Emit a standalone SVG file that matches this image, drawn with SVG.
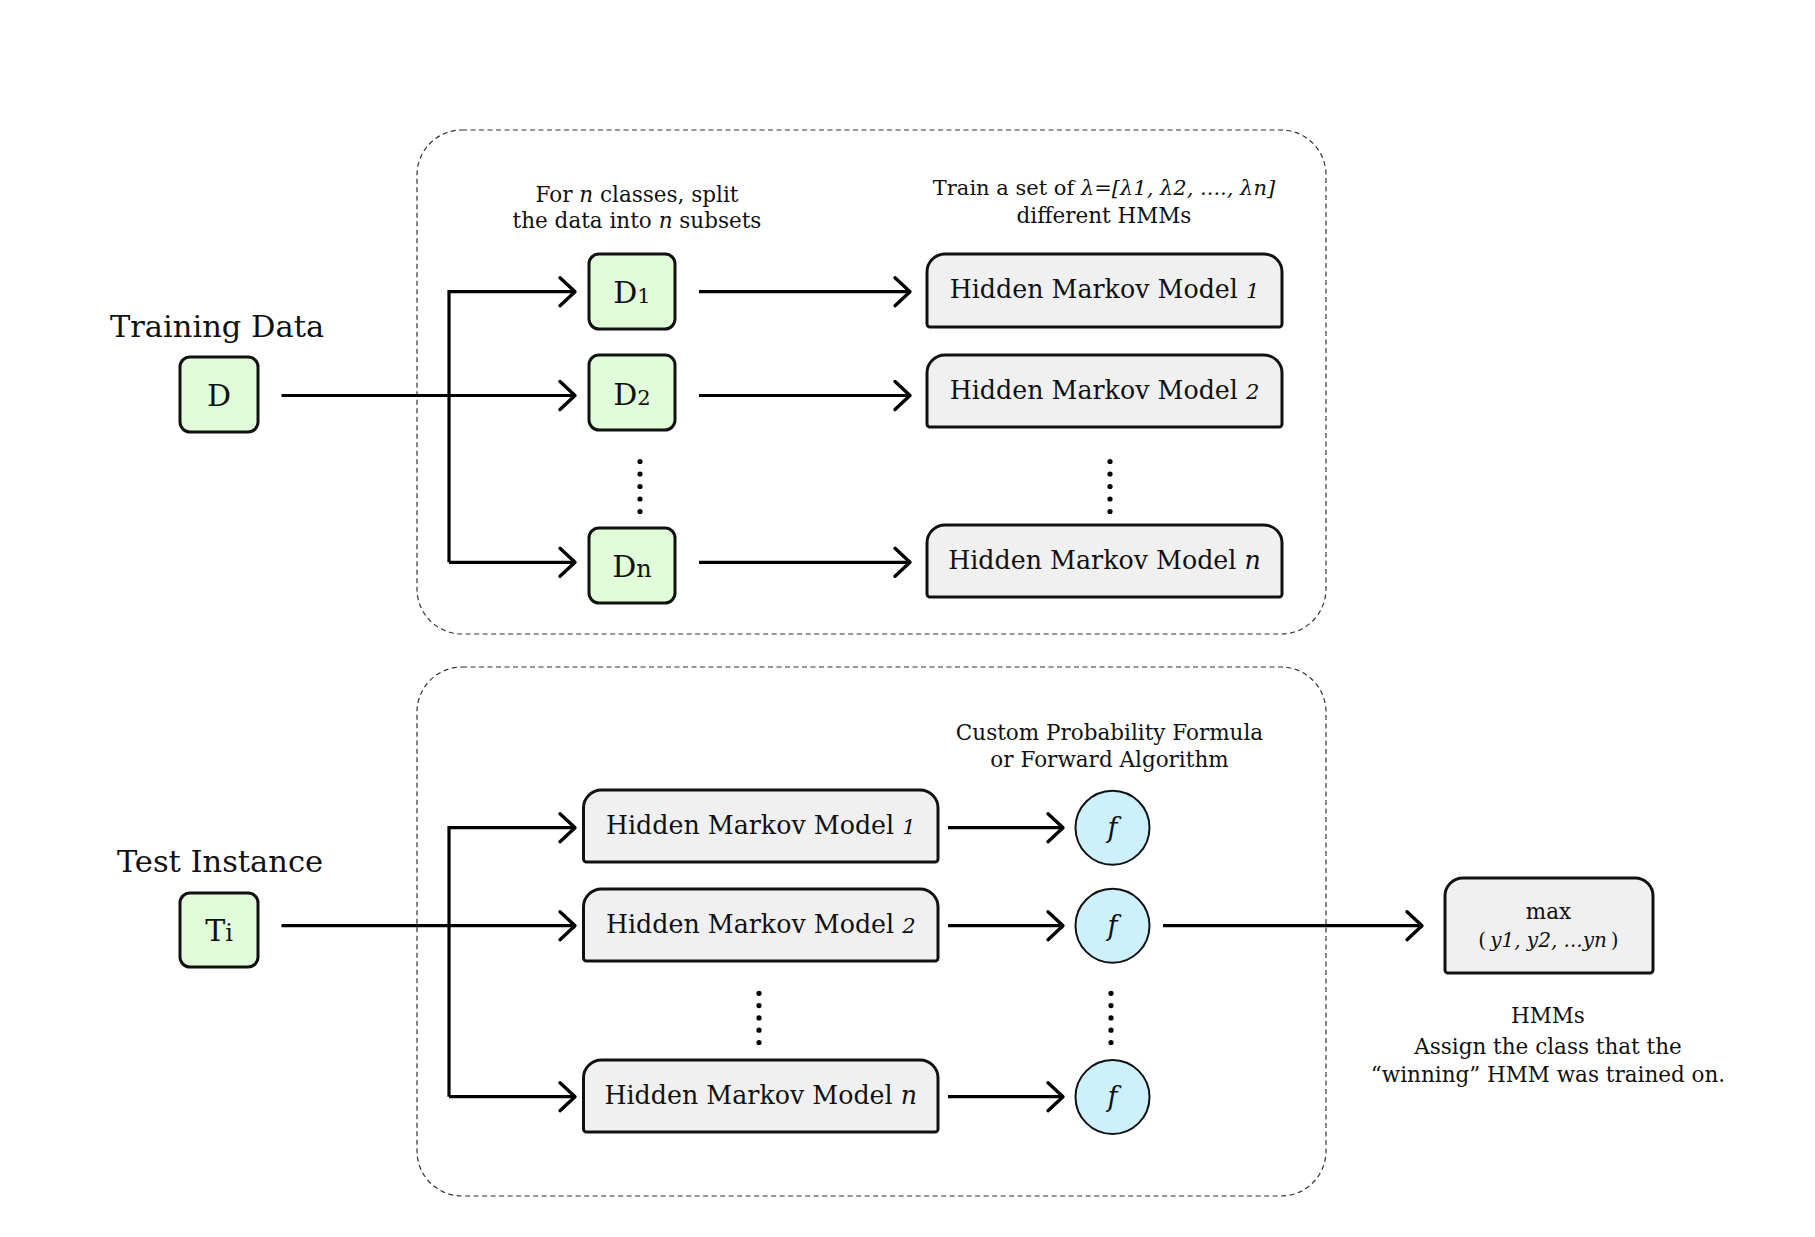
<svg xmlns="http://www.w3.org/2000/svg" width="1815" height="1237" viewBox="0 0 1815 1237">
<style>
  text { font-family: "DejaVu Serif", "Liberation Serif", serif; fill: #111; text-anchor: middle; }
  .title { font-size: 30.5px; }
  .lbl { font-size: 21.5px; }
  .hmm { font-size: 25.3px; }
  .dlbl { font-size: 30px; }
  .it { font-style: italic; }
  .sub { font-size: 21px; }
  .container { fill: none; stroke: #333; stroke-width: 1.2; stroke-dasharray: 5 3.5; }
  .dbox { fill: #e1fcd9; stroke: #111; stroke-width: 3; }
  .hbox { fill: #f0f0f0; stroke: #111; stroke-width: 3; }
  .fcirc { fill: #cdf0fd; stroke: #111; stroke-width: 2; }
  .conn { fill: none; stroke: #000; stroke-width: 3.2; }
  .dots circle { fill: #000; }
</style>
<defs>
  <marker id="ah" markerUnits="userSpaceOnUse" viewBox="-18 -17 22 34" refX="0" refY="0" markerWidth="22" markerHeight="34" orient="auto" overflow="visible">
    <path d="M-15,-14 L0,0 L-15,14" fill="none" stroke="#000" stroke-width="3.4" stroke-linecap="round" stroke-linejoin="round"/>
  </marker>
</defs>
<rect width="1815" height="1237" fill="#fff"/>

<g id="containers">
  <rect id="train-container" class="container" x="417" y="130" width="909" height="504" rx="45"/>
  <rect id="test-container" class="container" x="417" y="667" width="909" height="529" rx="45"/>
</g>

<g id="labels">
  <text class="title" x="217" y="337">Training Data</text>
  <text class="title" x="220" y="872">Test Instance</text>
  <text class="lbl" x="637" y="202">For <tspan class="it">n</tspan> classes, split</text>
  <text class="lbl" x="637" y="228">the data into <tspan class="it">n</tspan> subsets</text>
  <text class="lbl" x="1104" y="195" style="font-size:21px">Train a set of <tspan class="it">λ=[λ1, λ2, ...., λn]</tspan></text>
  <text class="lbl" x="1104" y="223">different HMMs</text>
  <text class="lbl" x="1109.5" y="740">Custom Probability Formula</text>
  <text class="lbl" x="1109.5" y="767">or Forward Algorithm</text>
  <text class="lbl" x="1548" y="1023">HMMs</text>
  <text class="lbl" x="1548" y="1054">Assign the class that the</text>
  <text class="lbl" x="1548" y="1082">“winning” HMM was trained on.</text>
</g>

<g id="node-D">
  <rect class="dbox" x="180" y="357" width="78" height="75" rx="10"/>
  <text class="dlbl" x="219" y="406">D</text>
</g>
<g id="node-D1">
  <rect class="dbox" x="589" y="254" width="86" height="75" rx="10"/>
  <text class="dlbl" x="632" y="303">D<tspan class="sub">1</tspan></text>
</g>
<g id="node-D2">
  <rect class="dbox" x="589" y="355" width="86" height="75" rx="10"/>
  <text class="dlbl" x="632" y="405">D<tspan class="sub">2</tspan></text>
</g>
<g id="node-Dn">
  <rect class="dbox" x="589" y="528" width="86" height="75" rx="10"/>
  <text class="dlbl" x="632" y="577">D<tspan class="sub" style="font-size:24px">n</tspan></text>
</g>
<g id="node-Ti">
  <rect class="dbox" x="180" y="893" width="78" height="74" rx="10"/>
  <text class="dlbl" x="219" y="941">T<tspan class="sub" style="font-size:24px">i</tspan></text>
</g>

<g id="node-hmm-train-1">
  <path class="hbox" d="M927,272 A18,18 0 0 1 945,254 H1264 A18,18 0 0 1 1282,272 V324 A3,3 0 0 1 1279,327 H930 A3,3 0 0 1 927,324 Z"/>
  <text class="hmm" x="1104.5" y="298">Hidden Markov Model <tspan class="it" style="font-size:21px">1</tspan></text>
</g>
<g id="node-hmm-train-2">
  <path class="hbox" d="M927,373 A18,18 0 0 1 945,355 H1264 A18,18 0 0 1 1282,373 V424 A3,3 0 0 1 1279,427 H930 A3,3 0 0 1 927,424 Z"/>
  <text class="hmm" x="1104.5" y="399">Hidden Markov Model <tspan class="it" style="font-size:21px">2</tspan></text>
</g>
<g id="node-hmm-train-n">
  <path class="hbox" d="M927,543 A18,18 0 0 1 945,525 H1264 A18,18 0 0 1 1282,543 V594 A3,3 0 0 1 1279,597 H930 A3,3 0 0 1 927,594 Z"/>
  <text class="hmm" x="1104.5" y="569">Hidden Markov Model <tspan class="it">n</tspan></text>
</g>

<g id="node-hmm-test-1">
  <path class="hbox" d="M583.5,808 A18,18 0 0 1 601.5,790 H920 A18,18 0 0 1 938,808 V859 A3,3 0 0 1 935,862 H586.5 A3,3 0 0 1 583.5,859 Z"/>
  <text class="hmm" x="760.75" y="834">Hidden Markov Model <tspan class="it" style="font-size:21px">1</tspan></text>
</g>
<g id="node-hmm-test-2">
  <path class="hbox" d="M583.5,907 A18,18 0 0 1 601.5,889 H920 A18,18 0 0 1 938,907 V958 A3,3 0 0 1 935,961 H586.5 A3,3 0 0 1 583.5,958 Z"/>
  <text class="hmm" x="760.75" y="933">Hidden Markov Model <tspan class="it" style="font-size:21px">2</tspan></text>
</g>
<g id="node-hmm-test-n">
  <path class="hbox" d="M583.5,1078 A18,18 0 0 1 601.5,1060 H920 A18,18 0 0 1 938,1078 V1129 A3,3 0 0 1 935,1132 H586.5 A3,3 0 0 1 583.5,1129 Z"/>
  <text class="hmm" x="760.75" y="1104">Hidden Markov Model <tspan class="it">n</tspan></text>
</g>

<g id="node-f1">
  <circle class="fcirc" cx="1112.5" cy="827.7" r="37"/>
  <text class="it" x="1112.5" y="837" style="font-size:27px">f</text>
</g>
<g id="node-f2">
  <circle class="fcirc" cx="1112.5" cy="925.7" r="37"/>
  <text class="it" x="1112.5" y="935" style="font-size:27px">f</text>
</g>
<g id="node-fn">
  <circle class="fcirc" cx="1112.5" cy="1097" r="37"/>
  <text class="it" x="1112.5" y="1106.3" style="font-size:27px">f</text>
</g>

<g id="node-max">
  <path class="hbox" d="M1445,896 A18,18 0 0 1 1463,878 H1635 A18,18 0 0 1 1653,896 V970 A3,3 0 0 1 1650,973 H1448 A3,3 0 0 1 1445,970 Z"/>
  <text class="lbl" x="1548.5" y="919">max</text>
  <text class="lbl" x="1548.5" y="946.5" style="font-size:20px">(<tspan class="it" dx="4">y1, y2, ...yn</tspan><tspan dx="4">)</tspan></text>
</g>

<g id="ellipsis" class="dots">
  <circle cx="640" cy="461.5" r="2.6"/><circle cx="640" cy="474" r="2.6"/><circle cx="640" cy="486.5" r="2.6"/><circle cx="640" cy="499" r="2.6"/><circle cx="640" cy="511.5" r="2.6"/>
  <circle cx="1110" cy="461.5" r="2.6"/><circle cx="1110" cy="474" r="2.6"/><circle cx="1110" cy="486.5" r="2.6"/><circle cx="1110" cy="499" r="2.6"/><circle cx="1110" cy="511.5" r="2.6"/>
  <circle cx="759" cy="993.3" r="2.6"/><circle cx="759" cy="1005.6" r="2.6"/><circle cx="759" cy="1017.9" r="2.6"/><circle cx="759" cy="1030.2" r="2.6"/><circle cx="759" cy="1042.5" r="2.6"/>
  <circle cx="1111" cy="993.3" r="2.6"/><circle cx="1111" cy="1005.6" r="2.6"/><circle cx="1111" cy="1017.9" r="2.6"/><circle cx="1111" cy="1030.2" r="2.6"/><circle cx="1111" cy="1042.5" r="2.6"/>
</g>

<g id="connectors">
  <path class="conn" d="M281.5,395.5 H575" marker-end="url(#ah)"/>
  <path class="conn" d="M449,562.3 V291.7 H575" marker-end="url(#ah)"/>
  <path class="conn" d="M449,562.3 H575" marker-end="url(#ah)"/>
  <path class="conn" d="M699,291.7 H910" marker-end="url(#ah)"/>
  <path class="conn" d="M699,395.5 H910" marker-end="url(#ah)"/>
  <path class="conn" d="M699,562.3 H910" marker-end="url(#ah)"/>

  <path class="conn" d="M281.5,925.7 H575" marker-end="url(#ah)"/>
  <path class="conn" d="M449,1096.7 V827.7 H575" marker-end="url(#ah)"/>
  <path class="conn" d="M449,1096.7 H575" marker-end="url(#ah)"/>
  <path class="conn" d="M948,827.7 H1063" marker-end="url(#ah)"/>
  <path class="conn" d="M948,925.7 H1063" marker-end="url(#ah)"/>
  <path class="conn" d="M948,1096.7 H1063" marker-end="url(#ah)"/>
  <path class="conn" d="M1163,925.7 H1422" marker-end="url(#ah)"/>
</g>
</svg>
